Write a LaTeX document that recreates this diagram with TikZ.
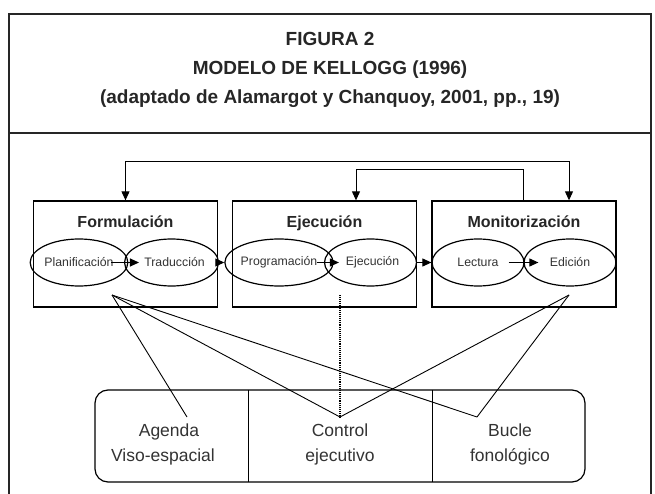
\documentclass[tikz,border=0pt]{standalone}
\usepackage{fontspec}
\setmainfont{Liberation Sans}
\usetikzlibrary{arrows.meta,shapes.geometric}
\tikzset{
  x=1pt,y=-1pt,
  frame/.style={line width=2pt,draw=black!85},
  procbox/.style={draw,line width=1.3pt,minimum width=184pt,minimum height=106pt,inner sep=0pt},
  proctitle/.style={anchor=base,font=\fontsize{16}{18}\selectfont\bfseries,text=black!85},
  sub/.style={draw,ellipse,line width=1.2pt,minimum width=92pt,minimum height=47pt,inner sep=0pt,font=\fontsize{12.3}{14}\selectfont,text=black!80},
  arr/.style={line width=1pt,-{Triangle[length=9pt,width=8pt]}},
  link/.style={line width=0.9pt},
  celltext/.style={align=center,font=\fontsize{17.5}{25}\selectfont,text=black!80},
  titletext/.style={anchor=base,font=\fontsize{19}{22}\selectfont\bfseries,text=black!85},
}
\begin{document}
\begin{tikzpicture}
\useasboundingbox (0,0) rectangle (655,494);
% frame
\draw[frame] (9,494) -- (9,14) -- (651,14) -- (651,494);
\draw[frame] (9,133) -- (651,133);
\node[titletext] (t1) at (330,45.5) {FIGURA 2};
\node[titletext] (t2) at (330,74.5) {MODELO DE KELLOGG (1996)};
\node[titletext] (t3) at (330,103.5) {(adaptado de Alamargot y Chanquoy, 2001, pp., 19)};
% process boxes
\node[procbox] (form) at (125.5,254) {};
\node[procbox] (ejbox) at (324.5,254) {};
\node[procbox] (monbox) at (524,254) {};
\node[proctitle] (formt) at (125.5,227) {Formulación};
\node[proctitle] (ejt) at (324.5,227) {Ejecución};
\node[proctitle] (mont) at (524,227) {Monitorización};
% sub-processes
\node[sub] (plan) at (79,262.5) {Planificación};
\node[sub] (trad) at (171.5,262.5) {\hspace*{6pt}Traducción};
\node[sub] (prog) at (279,262.5) {Programación};
\node[sub] (ejec) at (370.5,262.5) {\hspace*{4pt}Ejecución};
\node[sub] (lect) at (478,262.5) {Lectura};
\node[sub] (edic) at (570,262.5) {Edición};
% arrows
\draw[arr] ([xshift=-17pt]plan.east) -- ([xshift=15pt]trad.west);
\draw[arr] ([xshift=-17pt]prog.east) -- ([xshift=15pt]ejec.west);
\draw[arr] ([xshift=-16pt]lect.east) -- ([xshift=15pt]edic.west);
\draw[arr] (trad.east) -- (prog.west);
\draw[arr] (ejec.east) -- (lect.west);
% feedback loops
\draw[line width=1pt,{Triangle[length=9pt,width=8pt]}-{Triangle[length=9pt,width=8pt]}] (form.north) -- ++(0,-39) -| ([xshift=45pt]monbox.north);
\draw[arr] ([xshift=-1pt]monbox.north) -- ++(0,-31) -| ([xshift=31.5pt]ejbox.north);
% working memory
\node[draw,rounded corners=13pt,line width=1.2pt,minimum width=490pt,minimum height=92pt,inner sep=0pt] (wm) at (340,436) {};
\node[minimum width=153pt,minimum height=92pt,inner sep=0pt] (agcell) at (171.5,436) {};
\node[minimum width=184pt,minimum height=92pt,inner sep=0pt] (cocell) at (340,436) {};
\node[minimum width=153pt,minimum height=92pt,inner sep=0pt] (bucell) at (508.5,436) {};
\draw[line width=1.2pt] (agcell.north east) -- (agcell.south east);
\draw[line width=1.2pt] (cocell.north east) -- (cocell.south east);
\node[celltext] (agtxt) at (163,444) {\hspace*{12pt}Agenda\\Viso-espacial};
\node[celltext] (cotxt) at (340,444) {Control\\ejecutivo};
\node[celltext] (butxt) at (510,444) {Bucle\\fonológico};
% links
\coordinate (pF) at (112,295);
\coordinate (pE) at (340,295);
\coordinate (pM) at (569,295);
\coordinate (pA) at (187,417);
\coordinate (pC) at (340,417);
\coordinate (pB) at (477,417);
\draw[link] (pF) -- (pA);
\draw[link] (pF) -- (pC);
\draw[link] (pF) -- (pB);
\draw[link] (pM) -- (pC);
\draw[link] (pM) -- (pB);
\draw[link,densely dotted,line width=1.2pt] (pE) -- (pC);
\end{tikzpicture}
\end{document}
